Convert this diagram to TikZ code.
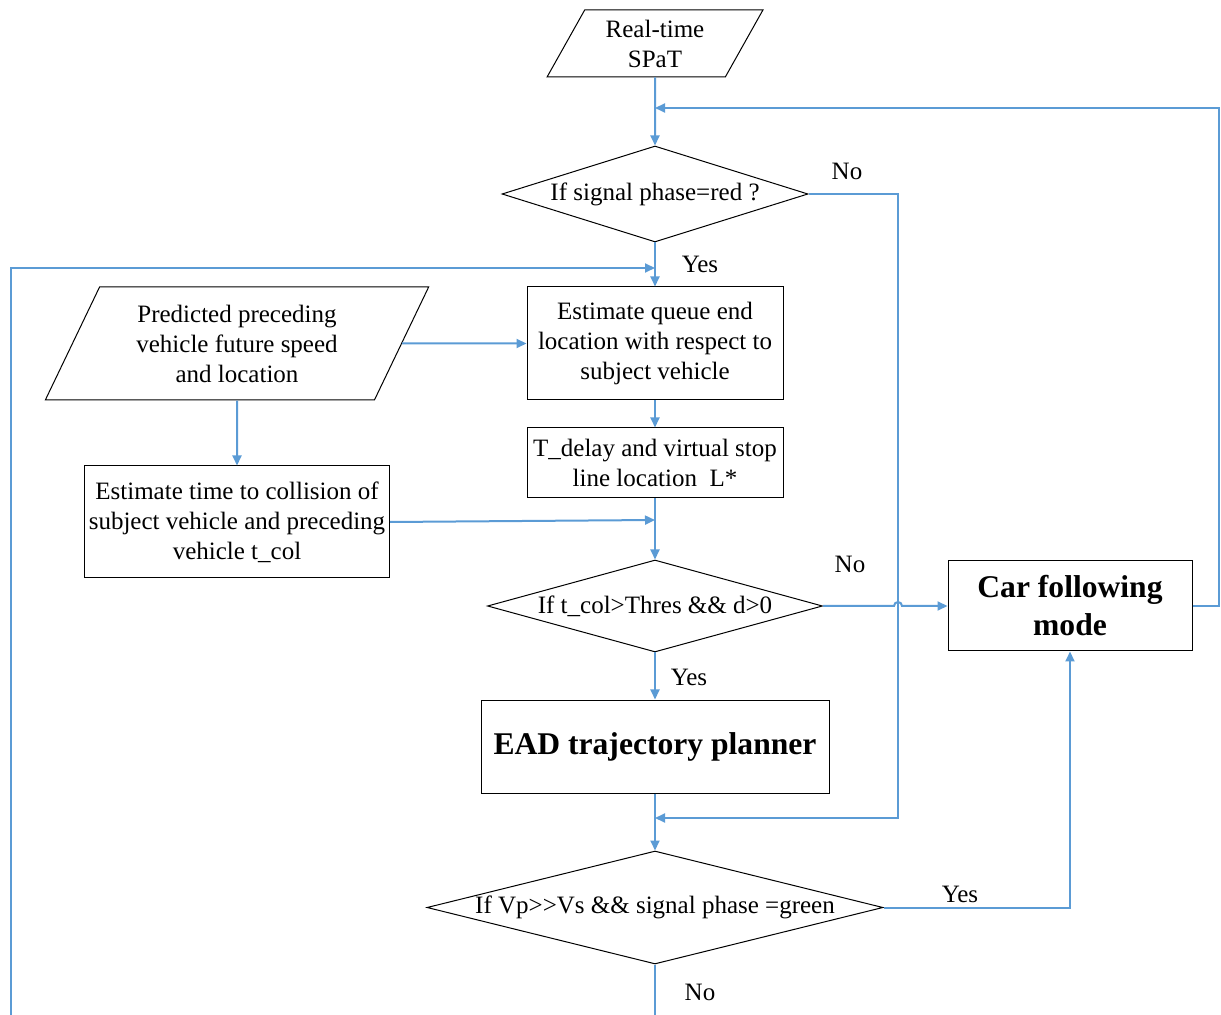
\documentclass[tikz,border=0pt]{standalone}
\usepackage{fontspec}
\setmainfont{Liberation Serif}
\usetikzlibrary{arrows.meta, positioning, shapes.geometric, calc}
\definecolor{flowBlue}{RGB}{91,155,213}

\begin{document}
\begin{tikzpicture}[x=0.5pt,y=-0.5pt,
  font=\fontsize{12.5}{15}\selectfont,
  procbox/.style={draw,line width=0.5pt,align=center,inner sep=2pt},
  datain/.style={trapezium,draw,line width=0.5pt,align=center,
                 trapezium stretches=true,inner sep=1pt},
  decide/.style={diamond,draw,line width=0.5pt,align=center,inner sep=0pt},
  flow/.style={draw=flowBlue,line width=1pt,-{Triangle[length=5pt,width=4.5pt]}},
  link/.style={draw=flowBlue,line width=1pt},
  bigbold/.style={font=\fontsize{15.8}{19}\selectfont\bfseries}]
  \useasboundingbox (0,0) rectangle (1221,1015);

  % main column
  \node[datain,trapezium left angle=62,trapezium right angle=118,
        minimum width=108pt,minimum height=33.5pt] (spat) at (655,43.5)
    {Real-time\\SPaT};
  \node[decide,aspect=3.19,minimum width=153pt,minimum height=48pt] (red) at (655,194)
    {If signal phase=red ?};
  \node[procbox,minimum width=128pt,minimum height=56.5pt] (queue) at (655,343.5)
    {Estimate queue end\\location with respect to\\subject vehicle};
  \node[procbox,minimum width=128pt,minimum height=35pt] (delay) at (655,463)
    {T\_delay and virtual stop\\line location\ \ L*};
  \node[decide,aspect=3.64,minimum width=167.5pt,minimum height=46pt] (thres) at (655,606)
    {If t\_col>Thres \&\& d>0};
  \node[procbox,bigbold,minimum width=174pt,minimum height=46.5pt] (ead) at (655,746.5)
    {EAD trajectory planner};
  \node[decide,aspect=4.04,minimum width=228pt,minimum height=56.5pt] (green) at (655,907.5)
    {If Vp>{}>Vs \&\& signal phase =green};

  % left column
  \node[datain,trapezium left angle=63.6,trapezium right angle=116.4,
        minimum width=192pt,minimum height=56.5pt] (pred) at (237,343.5)
    {Predicted preceding\\vehicle future speed\\and location};
  \node[procbox,minimum width=152.5pt,minimum height=56pt] (ttc) at (237,522)
    {Estimate time to collision of\\subject vehicle and preceding\\vehicle t\_col};

  % right column
  \node[procbox,bigbold,minimum width=122pt,minimum height=45pt] (carf) at (1070,606)
    {Car following\\mode};

  % junctions and corners
  \coordinate (jSpat) at (655,108);
  \coordinate (jQueue) at (655,268);
  \coordinate (jTtc) at (655,520);
  \coordinate (jGreen) at (655,818);
  \coordinate (noEdge) at (898,818);
  \coordinate (fbEdge) at (1219,606);
  \coordinate (loopEnd) at (11,1015);
  \coordinate (bottomEnd) at (655,1015);

  % connectors
  \draw[flow] (spat.south) -- (red.north);
  \draw[flow] (carf.east) -- (fbEdge) |- (jSpat);
  \draw[flow] (red.east) -| (noEdge) -- (jGreen);
  \draw[flow] (red.south) -- (queue.north);
  \draw[flow] (loopEnd) |- (jQueue);
  \draw[flow] (pred.east) -- (queue.west);
  \draw[flow] (pred.south) -- (ttc.north);
  \draw[flow] (queue.south) -- (delay.north);
  \draw[flow] (delay.south) -- (thres.north);
  \draw[flow] (ttc.east) -- (jTtc);
  \draw[flow] (thres.east) -- ($(thres.east -| noEdge)+(-4,0)$)
    arc[start angle=180,end angle=0,radius=2pt] -- (carf.west);
  \draw[flow] (thres.south) -- (ead.north);
  \draw[flow] (ead.south) -- (green.north);
  \draw[flow] (green.east) -| (carf.south);
  \draw[link] (green.south) -- (bottomEnd);

  % branch labels
  \node (noRed) at (847,171) {No};
  \node (yesRed) at (700,264) {Yes};
  \node (noThres) at (850,564) {No};
  \node (yesThres) at (689,677) {Yes};
  \node (yesGreen) at (960,894) {Yes};
  \node (noGreen) at (700,992) {No};
\end{tikzpicture}
\end{document}
